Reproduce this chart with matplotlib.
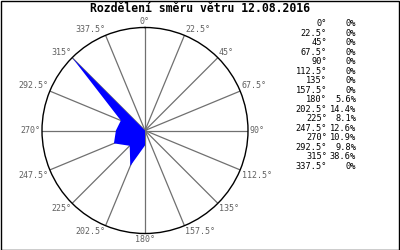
import numpy as np
import matplotlib
matplotlib.use("Agg")
import matplotlib.pyplot as plt
from matplotlib.patches import Rectangle

# wind direction (deg) and share (%)
directions = [0, 22.5, 45, 67.5, 90, 112.5, 135, 157.5,
              180, 202.5, 225, 247.5, 270, 292.5, 315, 337.5]
dir_labels = ["0°", "22.5°", "45°", "67.5°", "90°", "112.5°", "135°", "157.5°",
              "180°", "202.5°", "225°", "247.5°", "270°", "292.5°", "315°", "337.5°"]
percent = [0, 0, 0, 0, 0, 0, 0, 0, 5.6, 14.4, 8.1, 12.6, 10.9, 9.8, 38.6, 0]
title = "Rozdělení směru větru 12.08.2016"

W, H = 400, 250
fig = plt.figure(figsize=(W / 100, H / 100), dpi=100)
mono = "DejaVu Sans Mono"

# polar axes placed at centre (145,130) with radius 103 px
cx, cy, R = 145, 130.5, 103
ax = fig.add_axes([(cx - R) / W, (H - cy - R) / H, 2 * R / W, 2 * R / H], projection="polar")
ax.set_theta_zero_location("N")
ax.set_theta_direction(-1)
rmax = max(percent)
ax.set_ylim(0, rmax)
ax.grid(False)
ax.set_xticks([])
ax.set_yticks([])
ax.spines["polar"].set_linewidth(1.0)
ax.spines["polar"].set_color("black")
ax.patch.set_alpha(0)

theta = np.radians(directions)
for t in theta:
    ax.plot([t, t], [0, rmax], color="#707070", lw=0.9, zorder=1)

ax.fill(theta, percent, color="#0000ff", lw=0, zorder=3)

# direction labels outside the circle
for t, lab in zip(theta, dir_labels):
    s, c = np.sin(t), np.cos(t)
    ha = "center" if abs(s) < 1e-6 else ("left" if s > 0 else "right")
    va = "center" if abs(c) < 1e-6 else ("bottom" if c > 0 else "top")
    ax.text(t, rmax * 1.015, lab, ha=ha, va=va, fontsize=6.0, family=mono,
            color="#606060", clip_on=False)

fig.text(0.5, 1 - 9 / H, title, ha="center", va="center", fontsize=8.3,
         family=mono, fontweight="bold")

# table on the right
for i, (lab, p) in enumerate(zip(dir_labels, percent)):
    y = 1 - (24 + 9.47 * i) / H
    fig.text(327 / W, y, lab, ha="right", va="center", fontsize=6.2, family=mono)
    ptxt = "0%" if p == 0 else f"{p:.1f}%"
    fig.text(356 / W, y, ptxt, ha="right", va="center", fontsize=6.2, family=mono)

fig.patches.append(Rectangle((0.5 / W, 0.5 / H), 1 - 1.5 / W, 1 - 1.5 / H,
                             transform=fig.transFigure, fill=False,
                             edgecolor="black", lw=1.0))

fig.savefig("out.png", dpi=100)
